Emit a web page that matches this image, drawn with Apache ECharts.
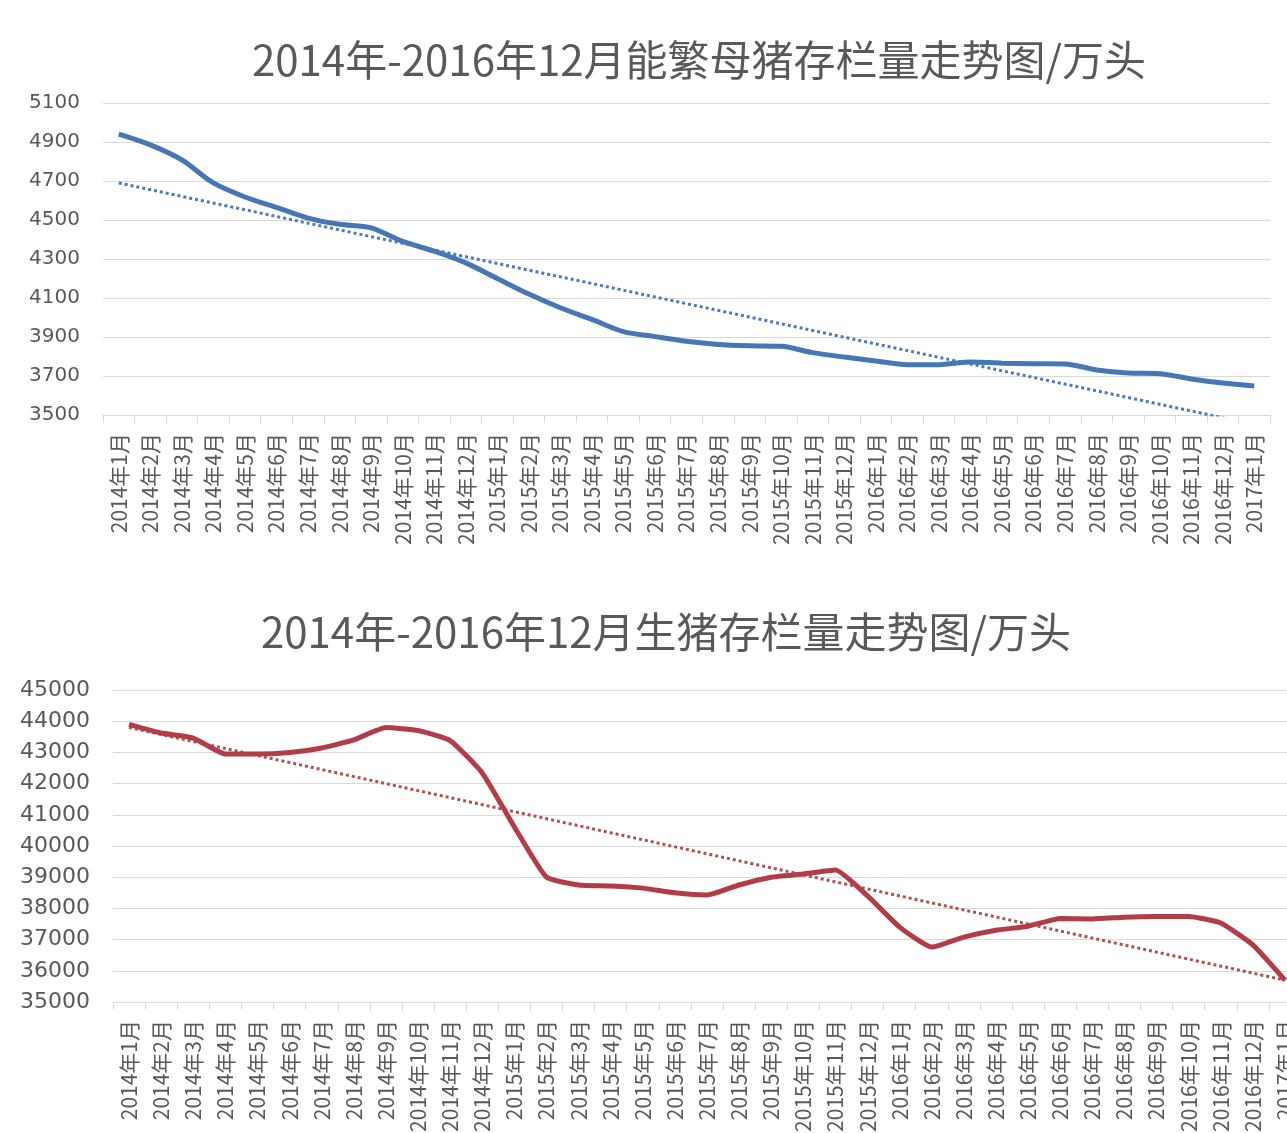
<!DOCTYPE html>
<html>
<head>
<meta charset="utf-8">
<title>能繁母猪 / 生猪存栏量走势</title>
<script src="https://cdn.jsdelivr.net/npm/echarts@6/dist/echarts.min.js"></script>
<style>
html, body { margin: 0; padding: 0; background: #fff; }
#chart { width: 1287px; height: 1133px; }
</style>
</head>
<body>
<div id="chart"></div>
<script>
// x轴：月份
var months = [
  '2014年1月', '2014年2月', '2014年3月', '2014年4月', '2014年5月', '2014年6月',
  '2014年7月', '2014年8月', '2014年9月', '2014年10月', '2014年11月', '2014年12月',
  '2015年1月', '2015年2月', '2015年3月', '2015年4月', '2015年5月', '2015年6月',
  '2015年7月', '2015年8月', '2015年9月', '2015年10月', '2015年11月', '2015年12月',
  '2016年1月', '2016年2月', '2016年3月', '2016年4月', '2016年5月', '2016年6月',
  '2016年7月', '2016年8月', '2016年9月', '2016年10月', '2016年11月', '2016年12月',
  '2017年1月'
];

// 能繁母猪存栏量（万头）
var sowStock = [
  4940, 4885, 4808, 4690, 4618, 4565, 4510, 4478, 4460, 4390, 4340, 4280,
  4200, 4120, 4050, 3990, 3928, 3902, 3878, 3862, 3855, 3852, 3820, 3797,
  3777, 3758, 3758, 3772, 3766, 3763, 3762, 3731, 3715, 3712, 3685, 3664,
  3649
];
// 线性趋势线首尾两点
var sowTrend = [4690, 3452];

// 生猪存栏量（万头）
var hogStock = [
  43900, 43620, 43460, 42950, 42950, 43000, 43140, 43400, 43800, 43700, 43380, 42340,
  40610, 39000, 38750, 38720, 38650, 38500, 38430, 38750, 39000, 39100, 39230, 38400,
  37400, 36760, 37080, 37300, 37430, 37680, 37660, 37720, 37740, 37740, 37530, 36830,
  35700
];
var hogTrend = [43800, 35700];

// y轴刻度
var sowAxis = { min: 3500, max: 5100, step: 200 };
var hogAxis = { min: 35000, max: 45000, step: 1000 };

var grey = '#595959';
var gridColor = '#d9d9d9';

function xAxisOf(gridIndex) {
  return {
    type: 'category',
    gridIndex: gridIndex,
    data: months,
    axisLine: { lineStyle: { color: gridColor } },
    axisTick: { show: true, length: 8, lineStyle: { color: gridColor } },
    axisLabel: {
      interval: 0,
      rotate: 90,
      margin: 18,
      color: grey,
      fontSize: 21,
      fontFamily: 'Noto Sans CJK SC'
    }
  };
}

function yAxisOf(gridIndex, ax, fontSize) {
  return {
    type: 'value',
    gridIndex: gridIndex,
    min: ax.min,
    max: ax.max,
    interval: ax.step,
    axisLine: { show: false },
    axisTick: { show: false },
    axisLabel: {
      color: grey, fontSize: fontSize, fontFamily: 'DejaVu Sans', margin: 23,
      formatter: function (v) { return String(v); }
    },
    splitLine: { lineStyle: { color: gridColor, width: 1 } }
  };
}

var last = months.length - 1;

var chart = echarts.init(document.getElementById('chart'));
chart.setOption({
  backgroundColor: '#fff',
  animation: false,
  title: [
    {
      text: '2014年-2016年12月能繁母猪存栏量走势图/万头',
      left: 694, top: 34, textAlign: 'center',
      textStyle: { color: grey, fontSize: 42, fontWeight: 'normal', fontFamily: 'Noto Sans CJK SC' }
    },
    {
      text: '2014年-2016年12月生猪存栏量走势图/万头',
      left: 661, top: 606, textAlign: 'center',
      textStyle: { color: grey, fontSize: 42, fontWeight: 'normal', fontFamily: 'Noto Sans CJK SC' }
    }
  ],
  grid: [
    { left: 103, top: 103, width: 1167, height: 312, outerBoundsMode: 'none' },
    { left: 113, top: 690, width: 1188, height: 312, outerBoundsMode: 'none' }
  ],
  xAxis: [xAxisOf(0), xAxisOf(1)],
  yAxis: [yAxisOf(0, sowAxis, 20), yAxisOf(1, hogAxis, 22)],
  series: [
    {
      name: '能繁母猪存栏量',
      type: 'line',
      xAxisIndex: 0, yAxisIndex: 0,
      data: sowStock,
      smooth: 0.3,
      showSymbol: false,
      lineStyle: { color: '#4677b5', width: 5 },
      z: 3
    },
    {
      name: '能繁母猪趋势',
      type: 'line',
      xAxisIndex: 0, yAxisIndex: 0,
      data: [[0, sowTrend[0]], [last, sowTrend[1]]],
      showSymbol: false,
      lineStyle: { color: '#4a7ab8', width: 3, type: 'dotted' },
      z: 2
    },
    {
      name: '生猪存栏量',
      type: 'line',
      xAxisIndex: 1, yAxisIndex: 1,
      data: hogStock,
      smooth: 0.15,
      showSymbol: false,
      lineStyle: { color: '#b23c48', width: 5 },
      z: 3
    },
    {
      name: '生猪趋势',
      type: 'line',
      xAxisIndex: 1, yAxisIndex: 1,
      data: [[0, hogTrend[0]], [last, hogTrend[1]]],
      showSymbol: false,
      lineStyle: { color: '#b0504f', width: 3, type: 'dotted' },
      z: 2
    }
  ]
});
</script>
</body>
</html>
